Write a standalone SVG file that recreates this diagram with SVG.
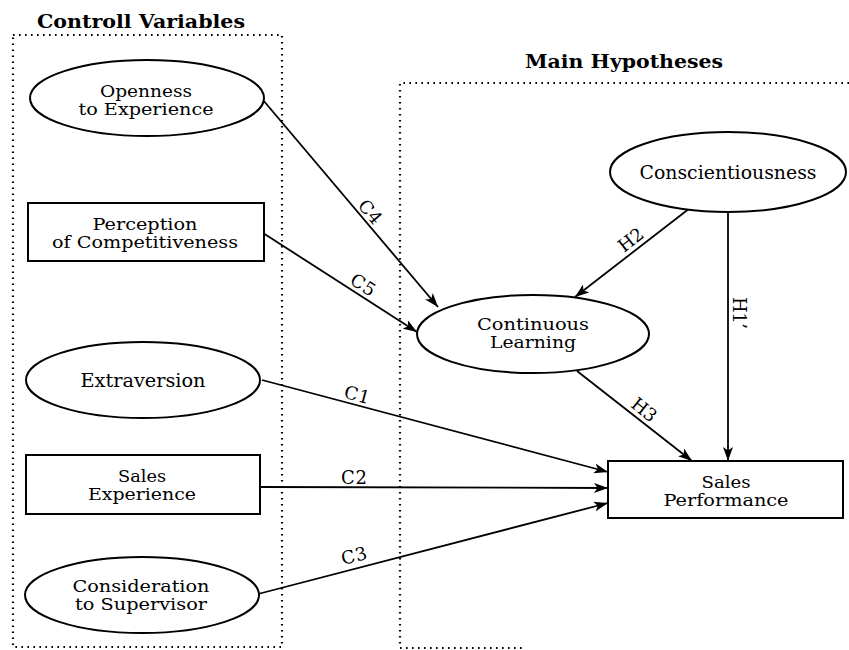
<svg xmlns="http://www.w3.org/2000/svg" width="849" height="650" viewBox="0 0 849 650">
<style>
text{font-family:"DejaVu Serif","Liberation Serif",serif;font-size:18px;fill:#000;text-anchor:middle}
.two{font-size:16px}
.title{font-weight:bold}
.node{fill:#fff;stroke:#000;stroke-width:2}
.box{fill:none;stroke:#000;stroke-width:2.2;stroke-dasharray:1.6 4.4}
.edge{fill:none;stroke:#000;stroke-width:1.8;marker-end:url(#ah)}
</style>
<defs>
<marker id="ah" viewBox="0 0 14 10" refX="14" refY="5" markerWidth="14" markerHeight="10" orient="auto" markerUnits="userSpaceOnUse">
<path d="M0,0 L14,5 L0,10 L3.5,5 z" fill="#000"/>
</marker>
</defs>
<rect width="849" height="650" fill="#fff"/>
<g id="group-controls">
<rect class="box" x="13" y="35" width="269" height="612"/>
<text class="title" x="141" y="28" textLength="208" lengthAdjust="spacingAndGlyphs">Controll Variables</text>
</g>
<g id="group-main">
<path class="box" d="M849,83 H400 V648 H523"/>
<text class="title" x="624" y="68" textLength="198" lengthAdjust="spacingAndGlyphs">Main Hypotheses</text>
</g>
<g id="connectors">
<line class="edge" x1="263" y1="100" x2="438" y2="307"/>
<line class="edge" x1="263" y1="233" x2="417" y2="332"/>
<line class="edge" x1="690" y1="208" x2="575" y2="297"/>
<line class="edge" x1="728" y1="212" x2="728" y2="461"/>
<line class="edge" x1="577" y1="371" x2="692" y2="461"/>
<line class="edge" x1="262" y1="380" x2="608" y2="472"/>
<line class="edge" x1="260" y1="487" x2="608" y2="488"/>
<line class="edge" x1="258" y1="594" x2="608" y2="503"/>
<text transform="translate(370,212) rotate(49.7)" y="6" textLength="26">C4</text>
<text transform="translate(363,285) rotate(32.6)" y="6" textLength="26">C5</text>
<text transform="translate(631,240) rotate(-37.9)" y="6" textLength="27">H2</text>
<text transform="translate(739,313) rotate(90)" y="6" textLength="32">H1’</text>
<text transform="translate(644,410) rotate(38.5)" y="6" textLength="27">H3</text>
<text transform="translate(357,395) rotate(14.8)" y="6" textLength="26">C1</text>
<text x="354" y="484" textLength="26">C2</text>
<text transform="translate(354,556) rotate(-14.6)" y="6" textLength="26">C3</text>
</g>
<g id="node-openness">
<ellipse class="node" cx="147" cy="98" rx="117" ry="38"/>
<text class="two" x="146" y="97" textLength="92" lengthAdjust="spacingAndGlyphs">Openness</text>
<text class="two" x="146" y="115" textLength="135" lengthAdjust="spacingAndGlyphs">to Experience</text>
</g>
<g id="node-perception">
<rect class="node" x="28" y="203" width="236" height="58"/>
<text class="two" x="145" y="230" textLength="105" lengthAdjust="spacingAndGlyphs">Perception</text>
<text class="two" x="145" y="248" textLength="186" lengthAdjust="spacingAndGlyphs">of Competitiveness</text>
</g>
<g id="node-extraversion">
<ellipse class="node" cx="143" cy="380" rx="117" ry="38"/>
<text x="143" y="387" textLength="125" lengthAdjust="spacingAndGlyphs">Extraversion</text>
</g>
<g id="node-sales-experience">
<rect class="node" x="26" y="455" width="234" height="59"/>
<text class="two" x="142" y="482" textLength="48" lengthAdjust="spacingAndGlyphs">Sales</text>
<text class="two" x="142" y="500" textLength="108" lengthAdjust="spacingAndGlyphs">Experience</text>
</g>
<g id="node-consideration">
<ellipse class="node" cx="142" cy="595" rx="117" ry="38"/>
<text class="two" x="141" y="592" textLength="137" lengthAdjust="spacingAndGlyphs">Consideration</text>
<text class="two" x="141" y="610" textLength="132" lengthAdjust="spacingAndGlyphs">to Supervisor</text>
</g>
<g id="node-conscientiousness">
<ellipse class="node" cx="728" cy="172" rx="118" ry="40"/>
<text x="728" y="179" textLength="177" lengthAdjust="spacingAndGlyphs">Conscientiousness</text>
</g>
<g id="node-continuous-learning">
<ellipse class="node" cx="533" cy="334" rx="116" ry="39"/>
<text class="two" x="533" y="330" textLength="112" lengthAdjust="spacingAndGlyphs">Continuous</text>
<text class="two" x="533" y="348" textLength="86" lengthAdjust="spacingAndGlyphs">Learning</text>
</g>
<g id="node-sales-performance">
<rect class="node" x="608" y="461" width="235" height="57"/>
<text class="two" x="726" y="488" textLength="49" lengthAdjust="spacingAndGlyphs">Sales</text>
<text class="two" x="726" y="506" textLength="125" lengthAdjust="spacingAndGlyphs">Performance</text>
</g>
</svg>
